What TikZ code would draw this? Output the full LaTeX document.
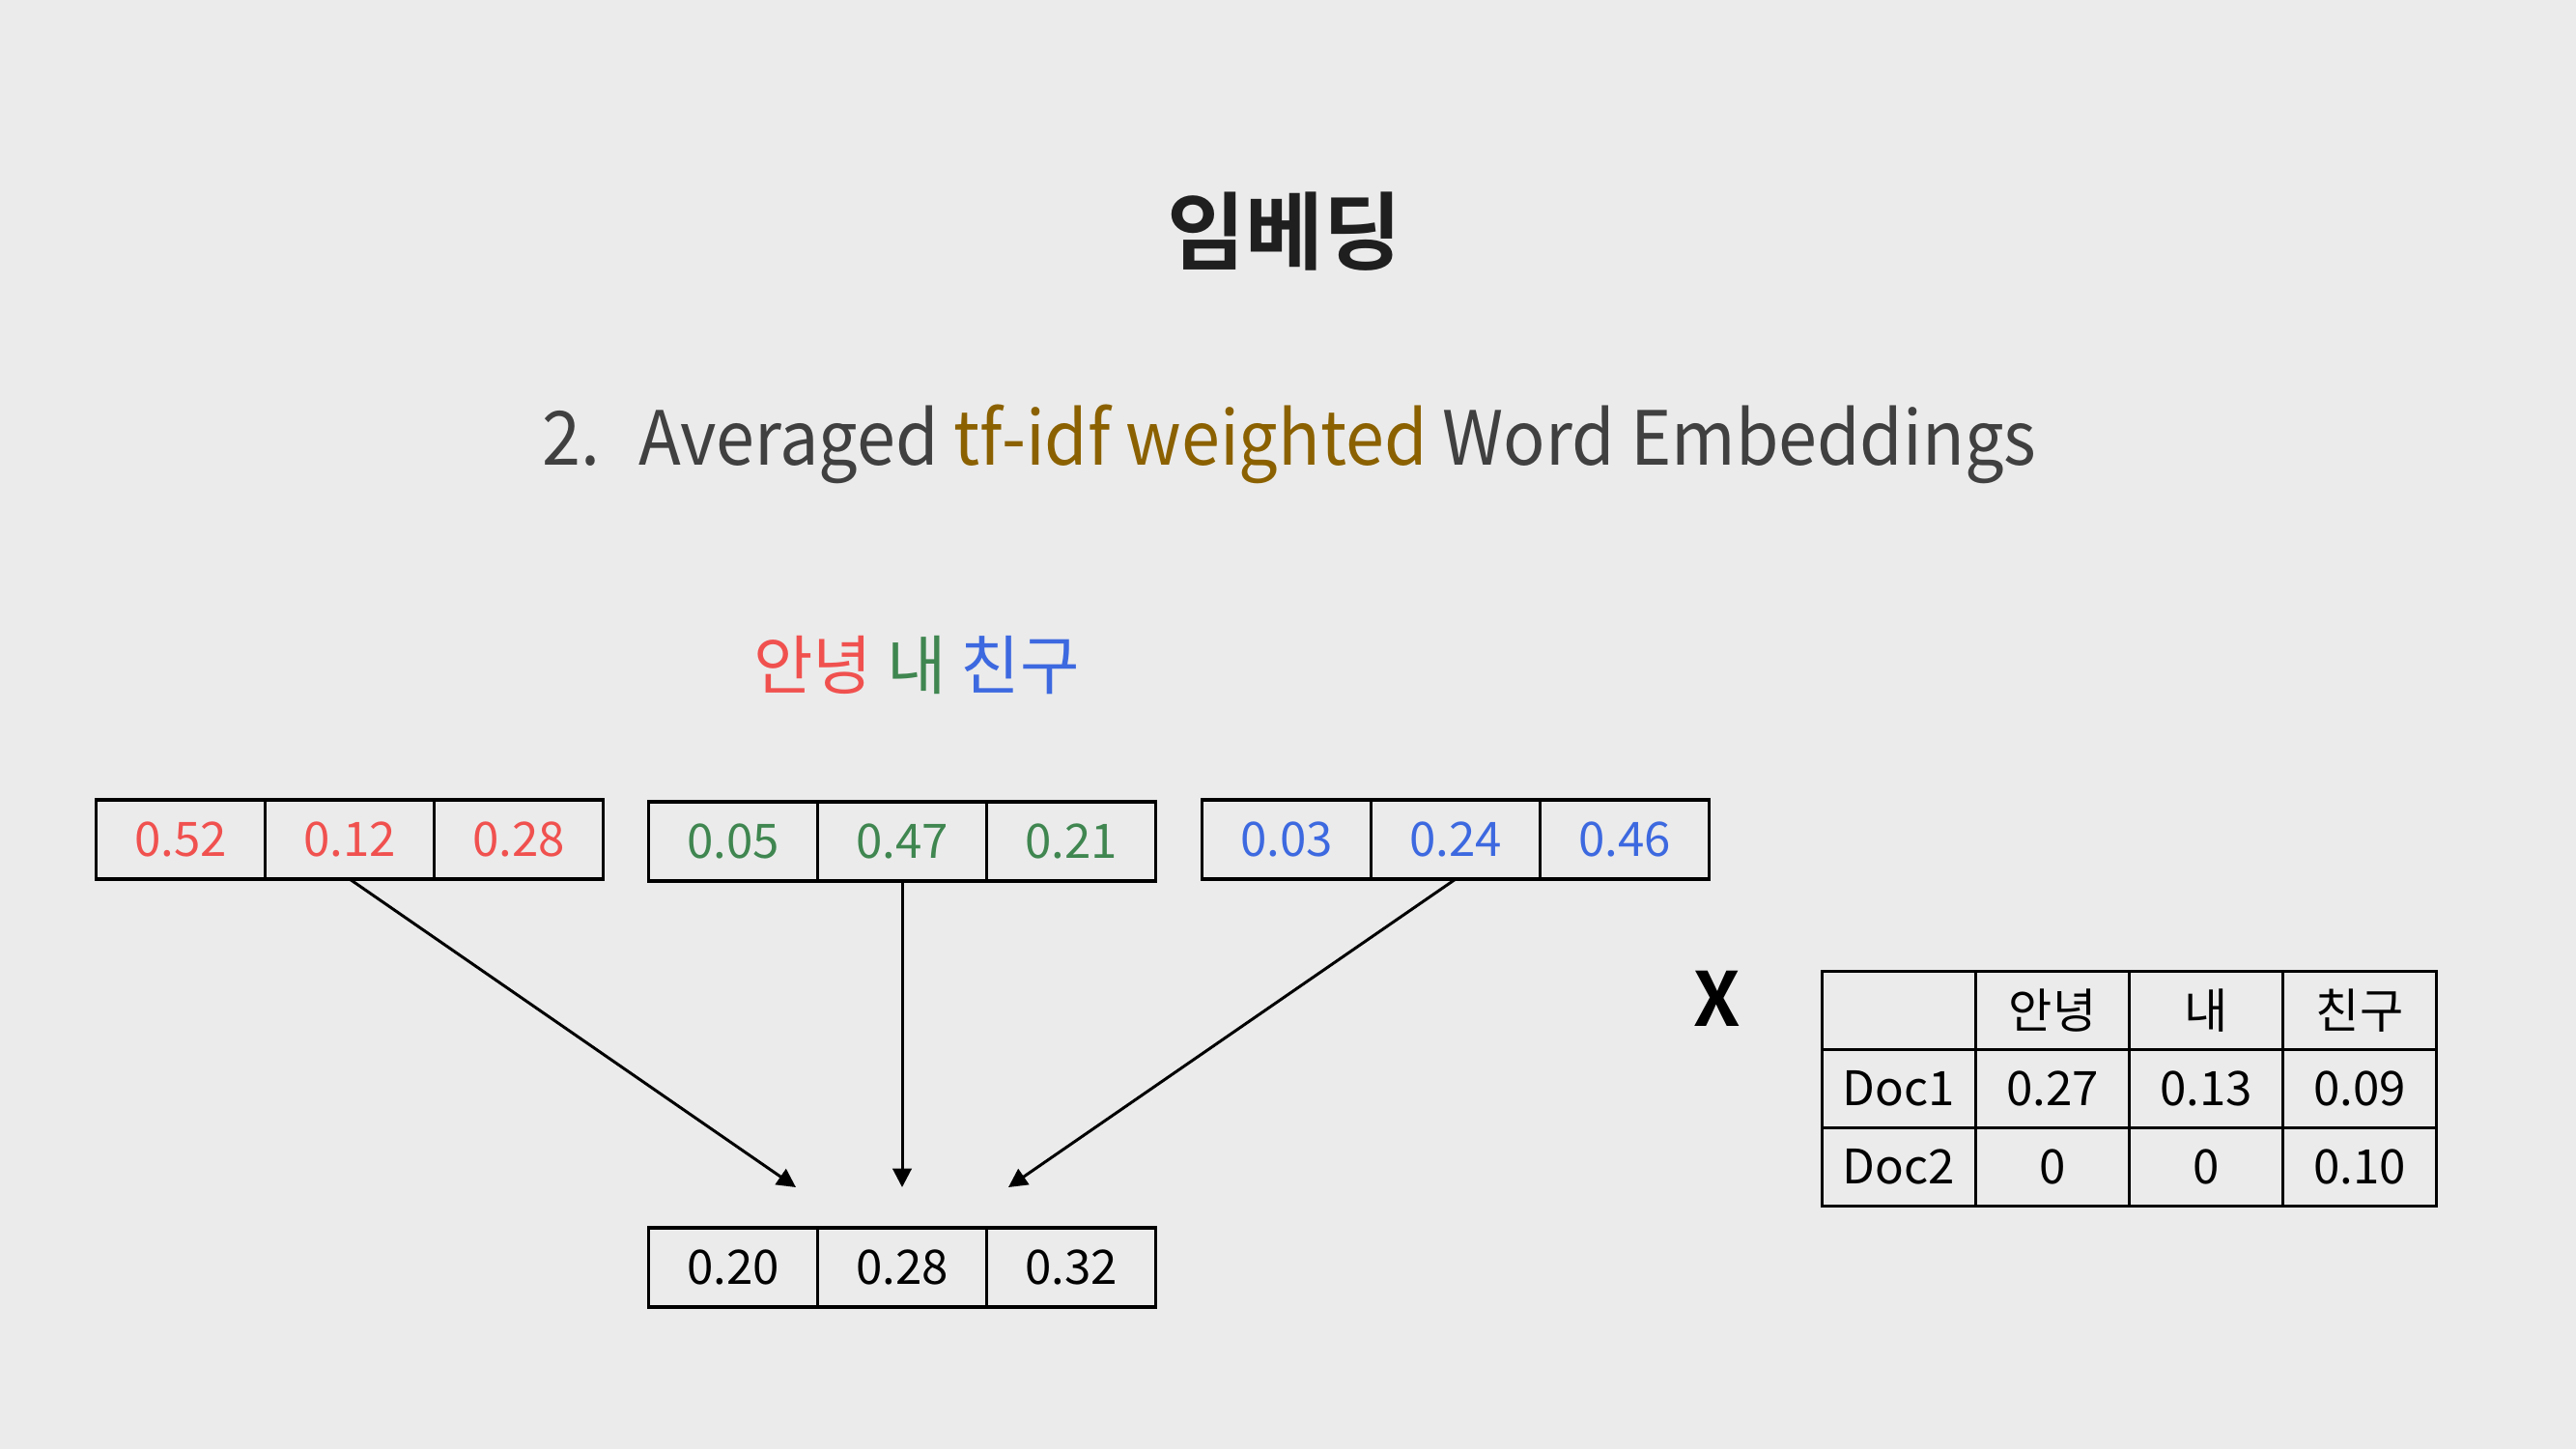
\documentclass[tikz,border=0pt]{standalone}
\usepackage{fontspec}
\setmainfont{Noto Sans CJK KR}
\newfontfamily\titlefont{Noto Sans CJK KR Bold}
\usepackage{tikz}
\usetikzlibrary{arrows.meta,positioning}

\definecolor{bgcol}{HTML}{EBEBEB}
\definecolor{textcol}{HTML}{404040}
\definecolor{goldcol}{HTML}{8B6100}
\definecolor{redcol}{HTML}{F0514F}
\definecolor{greencol}{HTML}{3F8650}
\definecolor{bluecol}{HTML}{3D69E0}

\begin{document}
\begin{tikzpicture}[node distance=0pt]
    \tikzset{
      cellnode/.style={rectangle,draw=black,line width=0.9pt,inner sep=0pt,outer sep=0pt,minimum width=1.75cm,minimum height=0.82cm,font=\fontsize{14}{16}\selectfont},
      tabnode/.style={rectangle,draw=black,line width=0.9pt,inner sep=0pt,outer sep=0pt,minimum width=1.59cm,minimum height=0.81cm,font=\fontsize{14}{16}\selectfont},
      arrow/.style={-{Triangle[length=5.5pt,width=5.5pt]},line width=0.85pt}
    }
    \fill[bgcol] (0,0) rectangle (26.67,-15);
    \useasboundingbox (0,0) rectangle (26.67,-15);

    % titles
    \node[text=black!88,font=\titlefont\fontsize{25}{30}\selectfont](title) at (13.3,-2.4){임베딩};
    \node[anchor=base west,inner sep=0pt,text=textcol,font=\fontsize{22}{28}\selectfont,xscale=0.93,transform shape](subtitle) at (5.61,-4.81)
      {2.\hspace{0.55em}Averaged \textcolor{goldcol}{tf-idf weighted} Word Embeddings};
    \node[font=\fontsize{19}{24}\selectfont](words) at (9.49,-6.89)
      {\textcolor{redcol}{안녕} \textcolor{greencol}{내} \textcolor{bluecol}{친구}};

    % word vectors
    \node[cellnode,text=redcol](red1) at (1.87,-8.69){0.52};
    \node[cellnode,text=redcol,right=of red1](red2){0.12};
    \node[cellnode,text=redcol,right=of red2](red3){0.28};
    \node[cellnode,text=greencol](green1) at (7.59,-8.71){0.05};
    \node[cellnode,text=greencol,right=of green1](green2){0.47};
    \node[cellnode,text=greencol,right=of green2](green3){0.21};
    \node[cellnode,text=bluecol](blue1) at (13.32,-8.69){0.03};
    \node[cellnode,text=bluecol,right=of blue1](blue2){0.24};
    \node[cellnode,text=bluecol,right=of blue2](blue3){0.46};

    % averaged vector
    \node[cellnode](avg1) at (7.59,-13.12){0.20};
    \node[cellnode,right=of avg1](avg2){0.28};
    \node[cellnode,right=of avg2](avg3){0.32};

    \coordinate (inleft) at ([xshift=-1.1cm,yshift=0.42cm]avg2.north);
    \coordinate (inmid) at ([yshift=0.42cm]avg2.north);
    \coordinate (inright) at ([xshift=1.1cm,yshift=0.42cm]avg2.north);
    \draw[arrow](red2.south) -- (inleft);
    \draw[arrow](green2.south) -- (inmid);
    \draw[arrow](blue2.south) -- (inright);

    % tf-idf table
    \node[font=\titlefont\fontsize{22}{26}\selectfont](times) at (17.78,-10.34){X};
    \node[tabnode](t00) at (19.66,-10.46){};
    \node[tabnode,right=of t00](t01){안녕};
    \node[tabnode,right=of t01](t02){내};
    \node[tabnode,right=of t02](t03){친구};
    \node[tabnode,below=of t00](t10){Doc1};
    \node[tabnode,right=of t10](t11){0.27};
    \node[tabnode,right=of t11](t12){0.13};
    \node[tabnode,right=of t12](t13){0.09};
    \node[tabnode,below=of t10](t20){Doc2};
    \node[tabnode,right=of t20](t21){0};
    \node[tabnode,right=of t21](t22){0};
    \node[tabnode,right=of t22](t23){0.10};
\end{tikzpicture}
\end{document}
